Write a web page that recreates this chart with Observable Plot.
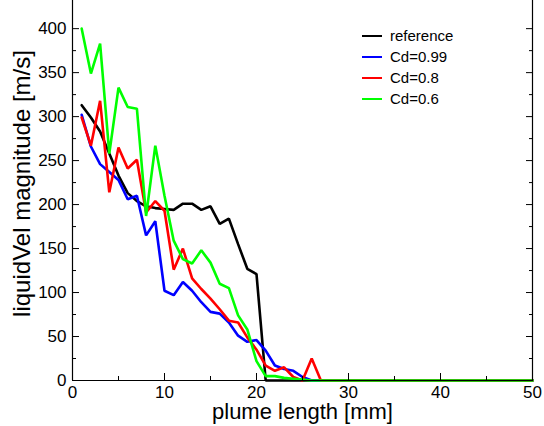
<!DOCTYPE html>
<html><head><meta charset="utf-8">
<script src="https://cdn.jsdelivr.net/npm/d3@7"></script>
<script src="https://cdn.jsdelivr.net/npm/@observablehq/plot@0.6"></script>
<style>
body{margin:0;background:#fff;}
#wrap{position:relative;width:544px;height:426px;font-family:"Liberation Sans",Arial,sans-serif;}
#legend{position:absolute;left:362px;top:25px;font-size:15px;color:#000;}
.item{display:flex;align-items:center;height:21px;}
.sw{width:20px;height:0;border-top:2.5px solid;margin-right:8px;}
</style></head><body><div id="wrap"><div id="legend"></div></div>
<script>
const xs = [1,2,3,4,5,6,7,8,9,10,11,12,13,14,15,16,17,18,19,20,21,22,23,24,25,26,27,28,29,30,31,32,33,34,35,36,37,38,39,40,41,42,43,44,45,46,47,48,49,50];
const seriesNames = ["reference", "Cd=0.99", "Cd=0.8", "Cd=0.6"];
const seriesColors = ["#000000", "#0000ff", "#ff0000", "#00ff00"];
const reference = [313,299,283,258,233,213,204,198,196,195,194,201,201,194,198,178,184,155,127,121,0,0,0,0,0,0,0,0,0,0,0,0,0,0,0,0,0,0,0,0,0,0,0,0,0,0,0,0,0,0];
const cd099 = [302,266,246,237,228,206,210,165,181,102,97,112,102,89,78,76,66,51,44,46,34,17,13,11,4,0,0,0,0,0,0,0,0,0,0,0,0,0,0,0,0,0,0,0,0,0,0,0,0,0];
const cd08 = [299,267,318,214,265,241,251,191,204,193,126,150,116,104,93,81,68,66,49,35,17,11,15,4,0,25,0,0,0,0,0,0,0,0,0,0,0,0,0,0,0,0,0,0,0,0,0,0,0,0];
const cd06 = [400,349,383,258,333,311,309,187,267,210,159,138,133,148,134,110,105,74,58,22,5,5,3,2,1,0,0,0,0,0,0,0,0,0,0,0,0,0,0,0,0,0,0,0,0,0,0,0,0,0];
const xMajorTicks = [0,10,20,30,40,50];
const xMinorTicks = [5,15,25,35,45];
const yMajorTicks = [0,50,100,150,200,250,300,350,400];
const yMinorTicks = [25,75,125,175,225,275,325,375];
const xLabel = "plume length [mm]";
const yLabel = "liquidVel magnitude [m/s]";

const allSeries = [reference, cd099, cd08, cd06];
const rows = [];
allSeries.forEach((vals, k) => vals.forEach((v, i) => rows.push({x: xs[i], y: v, name: seriesNames[k]})));

const font = '"Liberation Sans", Arial, sans-serif';
const chart = Plot.plot({
  width: 544, height: 426,
  marginLeft: 72, marginRight: 12, marginTop: 0, marginBottom: 46,
  style: {fontFamily: font, fontSize: "17px", color: "#000", background: "#fff", overflow: "visible"},
  x: {domain: [0, 50]},
  y: {domain: [0, 432]},
  color: {domain: seriesNames, range: seriesColors},
  marks: [
    Plot.line(rows, {x: "x", y: "y", z: "name", stroke: "name", strokeWidth: 2.6, strokeLinejoin: "miter"}),
    Plot.ruleX([0, 50], {stroke: "#000", strokeWidth: 1.2}),
    Plot.ruleY([0], {stroke: "#000", strokeWidth: 1.2}),
    Plot.axisX({ticks: xMajorTicks, tickSize: -7, tickPadding: 12, label: null, fontSize: 17}),
    Plot.axisX({ticks: xMinorTicks, tickSize: -4, tickFormat: () => "", label: null}),
    Plot.axisY({ticks: yMajorTicks, tickSize: -7, tickPadding: 13, label: null, fontSize: 17}),
    Plot.axisY({ticks: yMinorTicks, tickSize: -4, tickFormat: () => "", label: null}),
    Plot.axisY({anchor: "right", ticks: yMajorTicks, tickSize: -7, tickFormat: () => "", label: null}),
    Plot.axisY({anchor: "right", ticks: yMinorTicks, tickSize: -4, tickFormat: () => "", label: null}),
    Plot.text([xLabel], {frameAnchor: "bottom", dy: 31, textAnchor: "middle", lineAnchor: "middle", fontSize: 22, fill: "#000"}),
    Plot.text([yLabel], {frameAnchor: "left", rotate: -90, dx: -50, dy: -7, textAnchor: "middle", lineAnchor: "middle", fontSize: 24, fill: "#000"})
  ]
});
document.getElementById("wrap").prepend(chart);

const legend = document.getElementById("legend");
seriesNames.forEach((n, i) => {
  const it = document.createElement("div");
  it.className = "item";
  const sw = document.createElement("span");
  sw.className = "sw";
  sw.style.borderTopColor = seriesColors[i];
  const t = document.createElement("span");
  t.textContent = n;
  it.appendChild(sw); it.appendChild(t);
  legend.appendChild(it);
});
</script></body></html>
